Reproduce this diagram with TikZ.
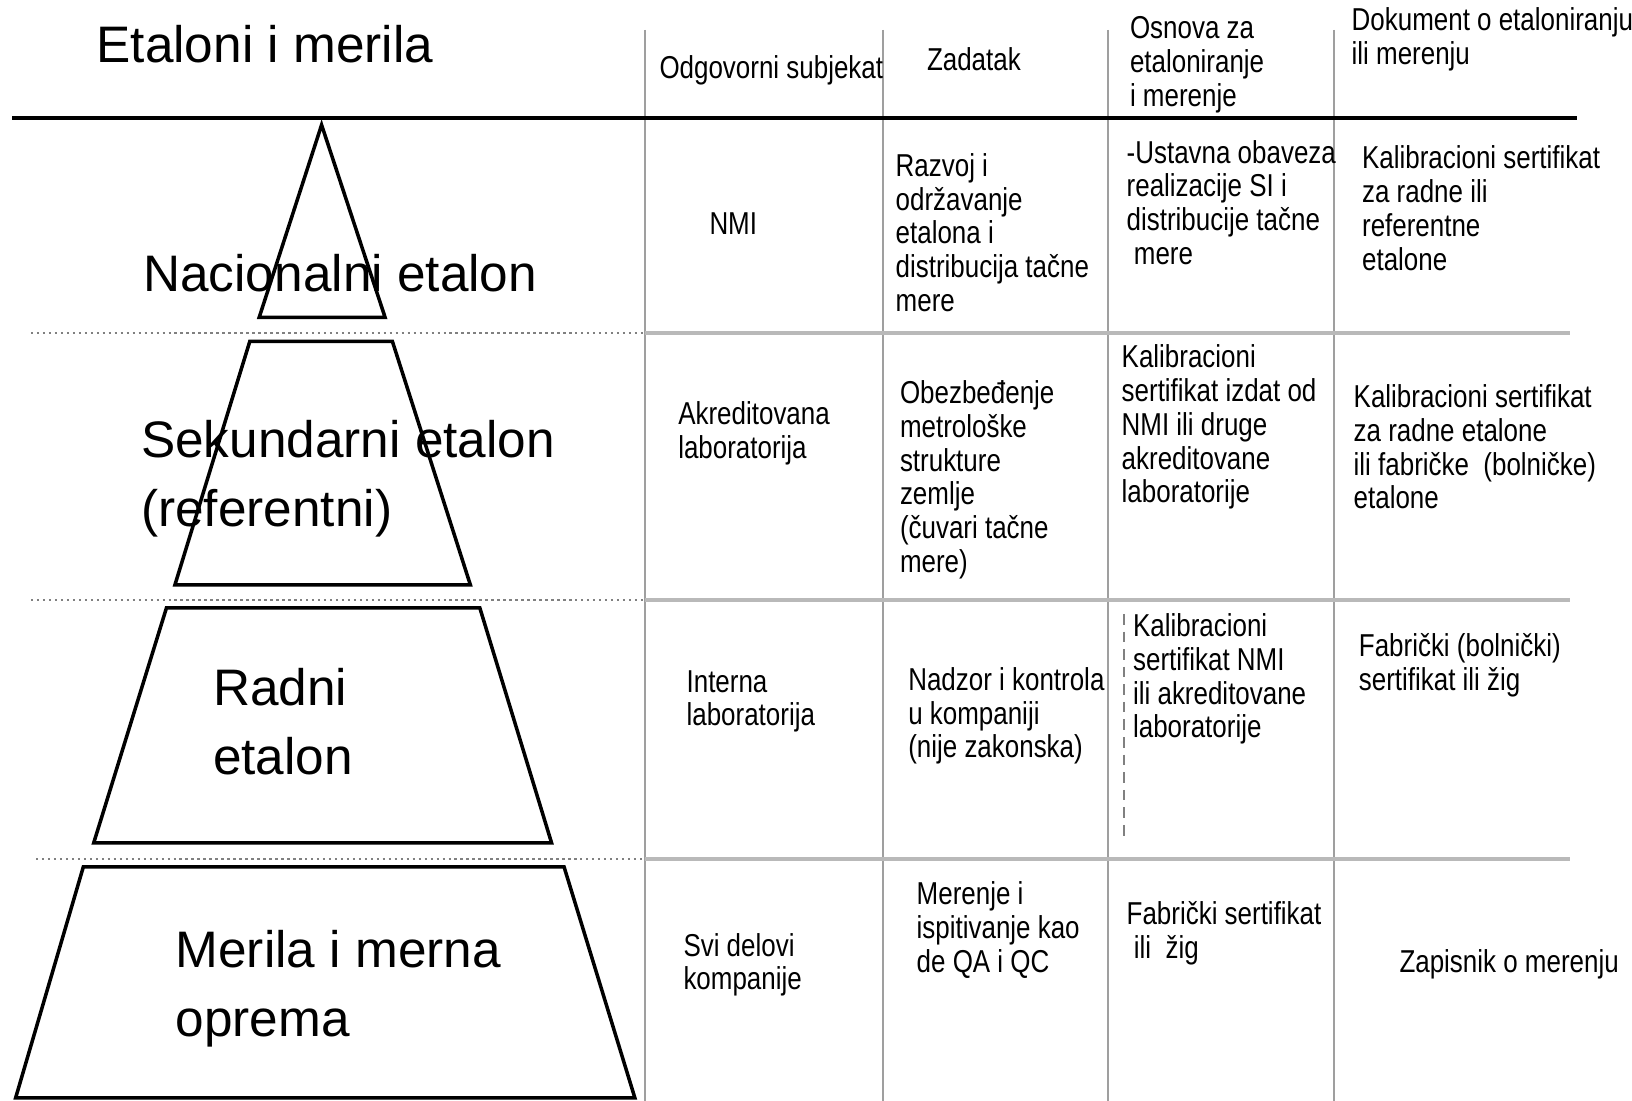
\documentclass[tikz,border=0pt]{standalone}
\usepackage{fontspec}
\setmainfont{Liberation Sans}
\newfontfamily\narrowfont[FakeStretch=0.82]{Liberation Sans}
\usepackage{tikz}
\usetikzlibrary{positioning,calc}

\begin{document}
\begin{tikzpicture}[x=0.01cm,y=-0.01cm,
    level/.style={draw,line width=1pt,line join=miter},
    big/.style={anchor=west,align=left,inner sep=0pt,font=\fontsize{14.6}{19.6}\selectfont},
    cell/.style={anchor=west,align=left,inner sep=0pt,font=\narrowfont\fontsize{9}{9.6}\selectfont},
    colline/.style={gray!75,line width=0.6pt},
    rowline/.style={gray!55,line width=1.3pt},
    rowdots/.style={gray,line width=0.7pt,densely dotted}]
  \useasboundingbox (0,0) rectangle (1632,1101);

  % grid
  \coordinate (tl) at (12,118);
  \coordinate (tr) at (1577,118);
  \foreach \x in {645,883,1108,1334}
    \draw[colline] (\x,30) -- (\x,1101);
  \foreach \y/\a in {333/31,600/31,859/36}{
    \draw[rowdots] (\a,\y) -- (645,\y);
    \draw[rowline] (645,\y) -- (1570,\y);
  }
  \draw[line width=1.2pt] (tl) -- (tr);
  \draw[gray,line width=0.6pt,densely dashed] (1124,614) -- (1124,838);

  % pyramid
  \draw[level] (321.6,124.9) -- (385.1,317.4) -- (259.2,317.4) -- cycle;
  \draw[level] (249.8,341.4) -- (392.4,341.4) -- (470.4,585) -- (174.9,585) -- cycle;
  \draw[level] (166.5,607.8) -- (479.8,607.8) -- (551.6,843) -- (93.7,843) -- cycle;
  \draw[level] (83.3,867) -- (564.1,867) -- (634.9,1098) -- (15.6,1098) -- cycle;

  \node[big] (title) at (95.8,43.7) {Etaloni i merila};
  \node[big] (lvnat) at (142.6,273) {Nacionalni etalon};
  \node[big] (lvsec) at (140.5,478.5) {Sekundarni etalon\\(referentni)};
  \node[big] (lvwork) at (212.3,722) {Radni\\etalon};
  \node[big] (lvinst) at (174.9,989) {Merila i merna\\oprema};

  % headers
  \node[cell] (hdsubj) at (658.8,70.8) {Odgovorni subjekat};
  \node[cell] (hdtask) at (926.3,59.3) {Zadatak};
  \node[cell] (hdbasis) at (1129.3,64.5) {Osnova za\\etaloniranje\\i merenje};
  \node[cell] (hddoc) at (1351,39.5) {Dokument o etaloniranju\\ili merenju};

  % row 1
  \node[cell] (subj1) at (708.8,223.8) {NMI};
  \node[cell] (task1) at (895,232.6) {Razvoj i\\održavanje\\etalona i\\distribucija tačne\\mere};
  \node[cell] (basis1) at (1126,202.4) {-Ustavna obaveza\\realizacije SI i\\distribucije tačne\\\ mere};
  \node[cell] (doc1) at (1361.4,208.2) {Kalibracioni sertifikat\\za radne ili\\referentne\\etalone};

  % row 2
  \node[cell] (subj2) at (677.6,433) {Akreditovana\\laboratorija};
  \node[cell] (task2) at (899.3,479.8) {Obezbeđenje\\metrološke\\strukture\\zemlje\\(čuvari tačne\\mere)};
  \node[cell] (basis2) at (1121,427.3) {Kalibracioni\\sertifikat izdat od\\NMI ili druge\\akreditovane\\laboratorije};
  \node[cell] (doc2) at (1353,447) {Kalibracioni sertifikat\\za radne etalone\\ili fabričke\ \ (bolničke)\\etalone};

  % row 3
  \node[cell] (subj3) at (685.9,701.5) {Interna\\laboratorija};
  \node[cell] (task3) at (907.6,716) {Nadzor i kontrola\\u kompaniji\\(nije zakonska)};
  \node[cell] (basis3) at (1132.4,679.1) {Kalibracioni\\sertifikat NMI\\ili akreditovane\\laboratorije};
  \node[cell] (doc3) at (1358.2,665) {Fabrički (bolnički)\\sertifikat ili žig};

  % row 4
  \node[cell] (subj4) at (682.8,964.8) {Svi delovi\\kompanije};
  \node[cell] (task4) at (916,930) {Merenje i\\ispitivanje kao\\de QA i QC};
  \node[cell] (basis4) at (1126,933.6) {Fabrički sertifikat\\\ ili\ \ žig};
  \node[cell] (doc4) at (1398.8,964.8) {Zapisnik o merenju};
\end{tikzpicture}
\end{document}
